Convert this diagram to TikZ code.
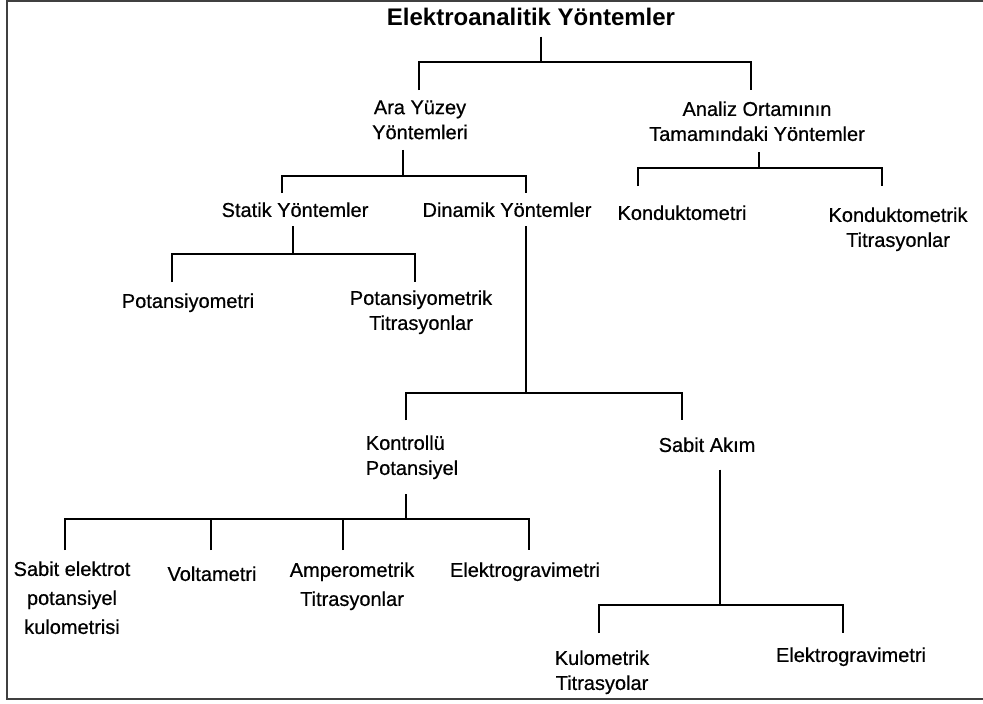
\documentclass[tikz,border=0pt]{standalone}
\usepackage{fontspec}
\setmainfont{Liberation Sans}
\newfontfamily\lblfont{Liberation Sans}[FakeBold=0.6]
\tikzset{
  lbl/.style={font=\lblfont\fontsize{10}{12.5}\selectfont, align=center, anchor=north, inner xsep=0pt, inner ysep=5pt},
  widelbl/.style={lbl, font=\lblfont\fontsize{10}{14.5}\selectfont},
  toplbl/.style={font=\fontsize{12}{14}\selectfont\bfseries, anchor=base, inner xsep=0pt, inner ysep=5.5pt},
  branch/.style={line width=1pt, line join=miter},
  frame/.style={line width=1.2pt, black!75}
}
\begin{document}
\begin{tikzpicture}[x=0.5pt,y=-0.5pt]
                \useasboundingbox (0,0) rectangle (983,703);
                \draw[frame] (983,1) -- (7,1) -- (7,699) -- (983,699);
                \node[toplbl] (title) at (531,25) {Elektroanalitik Yöntemler};
                \node[lbl] (ara) at (420,90) {Ara Yüzey\\Yöntemleri};
                \node[lbl, inner ysep=5.5pt] (analiz) at (757,90) {Analiz Ortamının\\Tamamındaki Yöntemler};
                \node[lbl, inner ysep=4.5pt] (statik) at (295,193) {Statik Yöntemler};
                \node[lbl, inner ysep=4.5pt] (dinamik) at (507,193) {Dinamik Yöntemler};
                \node[lbl, inner ysep=9.5pt] (kondu) at (682,186) {Konduktometri};
                \node[lbl, inner ysep=10.5pt] (konduT) at (898,186) {Konduktometrik\\Titrasyonlar};
                \node[lbl, inner ysep=5.5pt] (pot) at (188,282) {Potansiyometri};
                \node[lbl, inner ysep=4pt] (potT) at (421,282) {Potansiyometrik\\Titrasyonlar};
                \node[lbl, align=left, inner ysep=7.5pt] (kont) at (412,420) {Kontrollü\\Potansiyel};
                \node[lbl, inner ysep=8.5pt] (akim) at (707,420) {Sabit Akım};
                \node[widelbl, inner ysep=5.5pt] (kul) at (72,550) {Sabit elektrot\\potansiyel\\kulometrisi};
                \node[lbl, inner ysep=8pt] (volt) at (212,550) {Voltametri};
                \node[widelbl, inner ysep=6pt] (amp) at (352,550) {Amperometrik\\Titrasyonlar};
                \node[lbl, inner ysep=6pt] (elg1) at (525,550) {Elektrogravimetri};
                \node[lbl, inner ysep=8.5pt] (kulT) at (602,633) {Kulometrik\\Titrasyolar};
                \node[lbl, inner ysep=7pt] (elg2) at (851,633) {Elektrogravimetri};
                \coordinate (j0) at (541,62);
                \coordinate (j1) at (403,176);
                \coordinate (j2) at (759,168);
                \coordinate (j3) at (293,254);
                \coordinate (j4) at (526,393);
                \coordinate (j5) at (406,519);
                \coordinate (j6) at (720,605);
                \draw[branch] (title.south -| j0) -- (j0);
                \draw[branch] (ara.north -| 419,0) |- (j0) -| (analiz.north -| 751,0);
                \draw[branch] (ara.south -| j1) -- (j1);
                \draw[branch] (statik.north -| 282,0) |- (j1) -| (dinamik.north -| 526,0);
                \draw[branch] (analiz.south -| j2) -- (j2);
                \draw[branch] (kondu.north -| 638,0) |- (j2) -| (konduT.north -| 882,0);
                \draw[branch] (statik.south -| j3) -- (j3);
                \draw[branch] (pot.north -| 172,0) |- (j3) -| (potT.north -| 415,0);
                \draw[branch] (dinamik.south -| j4) -- (j4);
                \draw[branch] (kont.north -| 406,0) |- (j4) -| (akim.north -| 682,0);
                \draw[branch] (kont.south -| j5) -- (j5);
                \draw[branch] (kul.north -| 65,0) |- (j5) -| (elg1.north -| 529,0);
                \draw[branch] (volt.north -| 211,0) |- (j5);
                \draw[branch] (amp.north -| 343,0) |- (j5);
                \draw[branch] (akim.south -| j6) -- (j6);
                \draw[branch] (kulT.north -| 599,0) |- (j6) -| (elg2.north -| 843,0);
            \end{tikzpicture}
\end{document}
